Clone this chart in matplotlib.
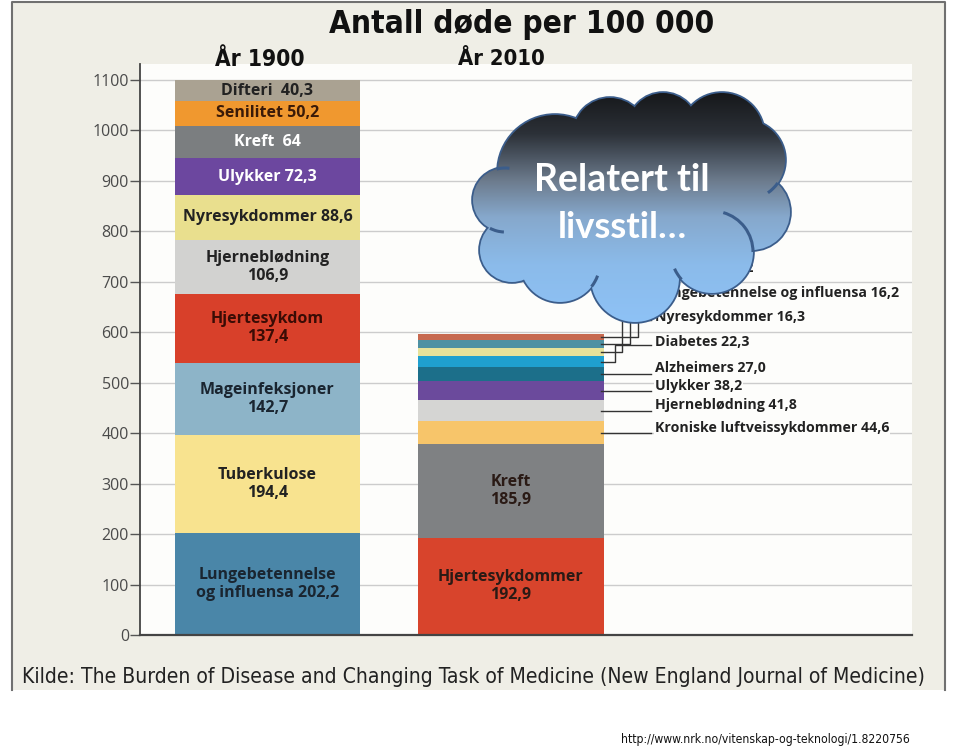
import numpy as np
import matplotlib.pyplot as plt
from matplotlib import font_manager
from matplotlib.patches import Circle, Rectangle, Arc
from matplotlib.colors import LinearSegmentedColormap

# Antall døde per 100 000, år 1900 og år 2010
labels_1900 = ['Lungebetennelse\nog influensa 202,2', 'Tuberkulose\n194,4', 'Mageinfeksjoner\n142,7',
               'Hjertesykdom\n137,4', 'Hjerneblødning\n106,9', 'Nyresykdommer 88,6', 'Ulykker 72,3',
               'Kreft  64', 'Senilitet 50,2', 'Difteri  40,3']
values_1900 = [202.2, 194.4, 142.7, 137.4, 106.9, 88.6, 72.3, 64.0, 50.2, 40.3]
colors_1900 = ['#4a86a8', '#f8e38f', '#8db4c8', '#d8402a', '#d2d2d0', '#e9df8e', '#6c479f',
               '#7b7e80', '#f0982f', '#aaa292']
textcol_1900 = ['#1a2530', '#222222', '#1a2530', '#3a0c05', '#222222', '#222222', 'white',
                'white', '#3a1a08', '#222222']

names_2010 = ['Hjertesykdommer', 'Kreft', 'Kroniske luftveissykdommer', 'Hjerneblødning', 'Ulykker',
              'Alzheimers', 'Diabetes', 'Nyresykdommer', 'Lungebetennelse og influensa', 'Selvmord']
values_2010 = [192.9, 185.9, 44.6, 41.8, 38.2, 27.0, 22.3, 16.3, 16.2, 12.2]
colors_2010 = ['#d8442c', '#7f8183', '#f7c56a', '#d5d5d3', '#6b4a9c', '#1c6f8a', '#1fa0cf',
               '#e7e29a', '#4e91a3', '#c7694f']

years = ['År 1900', 'År 2010']
yticks = list(range(0, 1101, 100))

# label placement for the small 2010 segments (data units)
side_label_y = [410, 456, 494, 530, 581, 630, 678, 727]
elbow_x = [1.427, 1.456, 1.489, 1.522]

W, H = 960, 746
fig = plt.figure(figsize=(9.6, 7.46), dpi=100)
fig.patch.set_facecolor('white')

# a condensed face for the frame texts, if there is one
has_cond = any(f.name == 'DejaVu Sans' and f.stretch == 'condensed'
               for f in font_manager.fontManager.ttflist)
if has_cond:
    narrow = dict(family='DejaVu Sans', stretch='condensed')
else:
    narrow = dict(family='Roboto')

# background panel (pixel coords)
bg = fig.add_axes([0, 0, 1, 1], zorder=0)
bg.set_xlim(0, W)
bg.set_ylim(H, 0)
bg.axis('off')
bg.add_patch(Rectangle((12, 2), 933, 688, facecolor='#efeee6', edgecolor='none'))
bg.plot([12, 12, 945, 945], [690, 2, 2, 690], color='#707070', lw=1.5)

ax = fig.add_axes([140 / W, (H - 635) / H, (912 - 140) / W, (635 - 64) / H], zorder=1)
ax.set_facecolor('#fdfdfb')
ax.set_ylim(0, 1131.7)
ax.set_xlim(-0.5236, 2.647)

b = 0
for v, c, lab, tc in zip(values_1900, colors_1900, labels_1900, textcol_1900):
    ax.bar(0, v, bottom=b, width=0.76, color=c, edgecolor='none', zorder=2)
    ax.text(0, b + v / 2, lab, ha='center', va='center', color=tc, fontsize=11.5,
            family='Open Sans', weight='bold', linespacing=1.15, zorder=3)
    b += v

b = 0
mids = []
for v, c in zip(values_2010, colors_2010):
    ax.bar(1, v, bottom=b, width=0.765, color=c, edgecolor='none', zorder=2)
    mids.append(b + v / 2)
    b += v

def fmt(v):
    return f'{v:.1f}'.replace('.', ',')

for i in range(2):
    ax.text(1, mids[i], names_2010[i] + '\n' + fmt(values_2010[i]), ha='center', va='center',
            color='#2a1a15', fontsize=11.5, family='Open Sans', weight='bold', linespacing=1.15, zorder=3)

for k, i in enumerate(range(2, 10)):
    ly = side_label_y[k]
    if k < 4:
        ax.plot([1.37, 1.575], [mids[i], mids[i]], color='#333333', lw=1, zorder=3, clip_on=False)
    else:
        ex = elbow_x[k - 4]
        ax.plot([1.37, ex, ex, 1.575], [mids[i], mids[i], ly - 6, ly - 6], color='#333333', lw=1,
                zorder=3, clip_on=False)
    ax.text(1.591, ly, names_2010[i] + ' ' + fmt(values_2010[i]), ha='left', va='center',
            color='#222222', fontsize=10.2, family='Open Sans', weight='bold', zorder=4,
            bbox=dict(facecolor='#fdfdfb', edgecolor='none', pad=0.5))

ax.set_yticks(yticks)
ax.set_yticklabels([str(t) for t in yticks], family='Open Sans', fontsize=11.5, color='#4a4a4a')
ax.tick_params(axis='y', length=7, width=1, color='#555555', pad=1)
ax.set_xticks([])
ax.grid(axis='y', color='#cccccc', lw=1, zorder=0)
ax.set_axisbelow(True)
for s in ['top', 'right']:
    ax.spines[s].set_visible(False)
ax.spines['left'].set_color('#444444')
ax.spines['left'].set_linewidth(1.3)
ax.spines['bottom'].set_color('#444444')
ax.spines['bottom'].set_linewidth(1.6)

# overlay in pixel coords: frame texts and the cloud
ov = fig.add_axes([0, 0, 1, 1], zorder=5)
ov.axis('off')
ov.patch.set_alpha(0)

r = fig.canvas.get_renderer()

def fit(t, width):
    w = t.get_window_extent(r).width
    t.set_fontsize(t.get_fontsize() * width / w)

# cloud lobes (x, y, radius) in pixels, plus inner fillers
lobes = [(505, 200, 32), (555, 172, 57), (610, 135, 37), (663, 128, 35), (722, 135, 42),
         (745, 160, 40), (752, 212, 38), (712, 252, 41), (635, 278, 44), (560, 262, 40),
         (512, 250, 32)]
fillers = [(630, 205, 80), (690, 200, 55), (575, 225, 50)]
edge = '#3b5d8b'
cmap = LinearSegmentedColormap.from_list(
    'cl', [(0, '#131416'), (0.2, '#2c3138'), (0.4, '#6d7c8e'), (0.55, '#86a8cc'),
           (0.75, '#8bbbea'), (1, '#8ec2f6')])
grad = np.linspace(0, 1, 256).reshape(-1, 1)
for (cx, cy, rr) in lobes:
    ov.add_patch(Circle((cx, cy), rr, facecolor='none', edgecolor=edge, lw=2.6, zorder=1))
for (cx, cy, rr) in lobes + fillers:
    cp = Circle((cx, cy), rr, facecolor='none', edgecolor='none')
    ov.add_patch(cp)
    im = ov.imshow(grad, cmap=cmap, extent=(460, 800, 324, 86), aspect='auto', zorder=2)
    im.set_clip_path(cp)
# inner curves of the cloud shape (lobe outlines running on into the cloud)
ticks = [((712, 252, 41), -74, 0), ((745, 160, 40), 35, 55), ((712, 252, 41), 138, 156),
         ((560, 262, 40), 20, 38), ((505, 200, 32), -105, -82), ((505, 200, 32), 92, 118)]
for (cx, cy, rr), t1, t2 in ticks:
    ov.add_patch(Arc((cx, cy), 2 * rr, 2 * rr, theta1=t1, theta2=t2, color=edge, lw=2.2, zorder=2.5))
ov.set_xlim(0, W)
ov.set_ylim(H, 0)

fit(ov.text(622, 180, 'Relatert til', ha='center', va='center', family='Lato', weight='bold',
            fontsize=24, color='white', zorder=3), 177)
fit(ov.text(622, 228, 'livsstil…', ha='center', va='center', family='Lato', weight='bold',
            fontsize=24, color='white', zorder=3), 130)

fit(ov.text(522, 25, 'Antall døde per 100 000', ha='center', va='center', weight='bold',
            fontsize=24, color='#111111', **narrow), 385)
for xc, yr, wd in zip([260, 501], years, [90, 87]):
    fit(ov.text(xc, 59, yr, ha='center', va='center', weight='bold',
                fontsize=16, color='#111111', **narrow), wd)
fit(ov.text(22, 677, 'Kilde: The Burden of Disease and Changing Task of Medicine (New England Journal of Medicine)',
            ha='left', va='center', fontsize=14, color='#222222', **narrow), 908)
fit(ov.text(910, 740, 'http://www.nrk.no/vitenskap-og-teknologi/1.8220756', ha='right', va='center',
            fontsize=9, color='#111111', **narrow), 290)

fig.savefig('out.png', dpi=100)
